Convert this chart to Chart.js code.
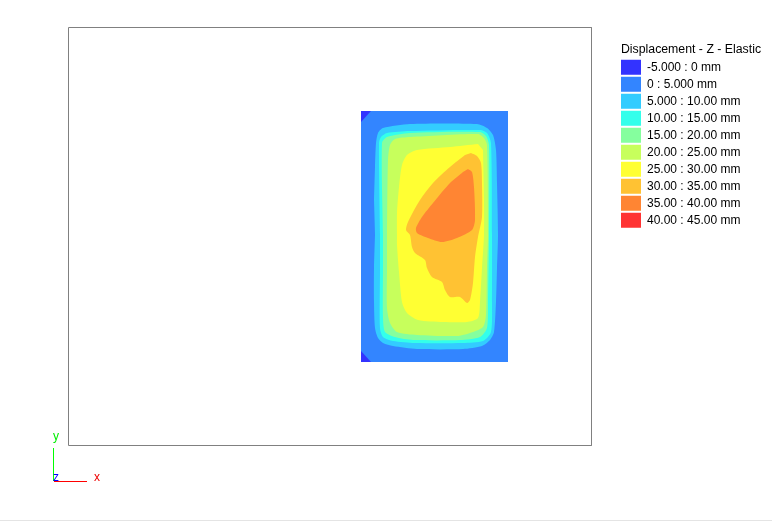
<!DOCTYPE html>
<html><head><meta charset="utf-8">
<style>html,body{margin:0;padding:0;background:#fff}canvas{display:block}</style>
<script src="https://cdn.jsdelivr.net/npm/chart.js@4"></script></head>
<body><canvas id="c" width="772" height="522"></canvas>
<script>
const legendTitle = 'Displacement - Z - Elastic';
const rangeLabels = ['-5.000 : 0 mm','0 : 5.000 mm','5.000 : 10.00 mm','10.00 : 15.00 mm','15.00 : 20.00 mm','20.00 : 25.00 mm','25.00 : 30.00 mm','30.00 : 35.00 mm','35.00 : 40.00 mm','40.00 : 45.00 mm'];
const rangeColors = ['#3333ff','#3385ff','#33ccff','#33ffeb','#85ff9e','#c7ff5c','#ffff33','#ffc233','#ff8533','#ff3333'];
const contourNeg5 = [[361,111],[371,111],[361,122],null,[361,351],[371,362],[361,362]];
const contour0 = [[361,111],[508,111],[508,362],[361,362]];
const contour5 = [[374,200],[375,167],[376,143],[378,133],[383,128],[410,124],[477,124],[487,128],[493,135],[496,150],[497,183],[498,235],[497,268],[496,302],[494,332],[490,340],[482,346],[463,349],[417,349],[393,346],[383,343],[378,338],[375,328],[374,302],[374,268],[375,235]];
const contour10 = [[380,235],[379,143],[381,137],[387,133],[410,131],[480,130],[487,133],[491,143],[492,235],[492,302],[491,332],[483,341],[463,343],[415,343],[393,341],[383,337],[380,328],[380,268]];
const contour15 = [[383,235],[382,143],[387,137],[410,133],[480,132],[486,136],[489,145],[489,235],[488,302],[487,328],[480,337],[460,340],[413,340],[395,337],[385,332],[383,318],[383,268]];
const contour20 = [[387,235],[388,160],[390,145],[395,139],[410,137],[478,134],[484,138],[487,145],[488,235],[487,268],[486,315],[483,327],[470,333],[457,336],[417,335],[397,332],[390,323],[387,308],[387,268]];
const contour25 = [[478,144],[450,147],[417,150],[407,155],[402,165],[399,187],[397,213],[397,235],[397,245],[399,272],[402,302],[407,313],[418,320],[443,322],[467,322],[478,318],[480,302],[482,268],[484,235],[484,200],[483,150]];
const contour30 = [[471,153],[477,156],[481,163],[482,183],[482,217],[478,237],[475,257],[473,283],[470,300],[467,303],[460,297],[450,297],[445,290],[442,282],[432,277],[427,268],[425,260],[415,253],[412,247],[410,235],[406,230],[408,222],[420,200],[433,183],[450,167],[465,155]];
const contour35 = [[468,169],[472,172],[474,187],[475,220],[472,230],[457,238],[442,242],[428,238],[417,233],[416,228],[422,217],[433,203],[450,183],[463,172]];
const contour40 = [];
const framePoints = [[68.5,27.5],[591.5,27.5],[591.5,445.5],[68.5,445.5],[68.5,27.5]];
const triadY = [[53.5,448],[53.5,481]];
const triadX = [[54,481.5],[87,481.5]];
const triadZ = [[54,481.5],[59,481.5]];
const windowEdge = [[0,520.5],[772,520.5]];
const triadLabels = [{t:'y',x:56,y:437,c:'#00ee00'},{t:'z',x:56,y:478,c:'#0000ff'},{t:'x',x:97,y:478,c:'#ee0000'}];

const contours = [contourNeg5,contour0,contour5,contour10,contour15,contour20,contour25,contour30,contour35,contour40];
const drawOrder = [1,0,2,3,4,5,6,7,8,9];
const toXY = a => a.map(p => p ? {x:p[0],y:p[1]} : {x:NaN,y:NaN});
const FONT = '"Liberation Sans", Arial, sans-serif';

const datasets = contours.map((c,i)=>({
  label: rangeLabels[i], data: toXY(c), showLine:true, fill:'shape', tension: i>=2 ? 0.25 : 0,
  backgroundColor: rangeColors[i], borderColor: rangeColors[i], borderWidth:0, pointRadius:0,
  order: 100 - drawOrder.indexOf(i)
}));
const lineSet = (data,color,w)=>({label:'', data:toXY(data), showLine:true, fill:false, tension:0, borderColor:color, backgroundColor:color, borderWidth:w, pointRadius:0, order:0});
datasets.push(lineSet(framePoints,'#808080',1), lineSet(triadY,'#00ff00',1), lineSet(triadX,'#ff0000',1), lineSet(triadZ,'#0000ff',1), lineSet(windowEdge,'#e4e4e4',1));

new Chart(document.getElementById('c'),{
  type:'scatter',
  data:{datasets},
  options:{
    responsive:false, animation:false, events:[],
    layout:{padding:0},
    scales:{
      x:{type:'linear',min:0,max:772,display:false},
      y:{type:'linear',min:0,max:522,reverse:true,display:false}
    },
    plugins:{
      tooltip:{enabled:false},
      legend:{
        position:'chartArea', align:'start',
        title:{display:true,text:legendTitle,color:'#000',position:'center',font:{family:FONT,size:12.3},padding:{top:0,bottom:0}},
        labels:{
          boxWidth:20,boxHeight:15,padding:2,color:'#000',font:{family:FONT,size:12},
          generateLabels:ch=>rangeLabels.map((t,i)=>({text:t,fillStyle:rangeColors[i],strokeStyle:rangeColors[i],lineWidth:0,datasetIndex:i,fontColor:'#000'}))
        }
      }
    }
  },
  plugins:[{
    id:'placeLegend',
    afterLayout(ch){
      const l=ch.legend;
      l.left=619; l.right=763; l.width=144; l.top=43; l.bottom=43+l.height;
    }
  },{
    id:'triadLabels',
    afterDatasetsDraw(ch){
      const {ctx,scales:{x,y}}=ch;
      ctx.save(); ctx.font='12px '+FONT; ctx.textAlign='center'; ctx.textBaseline='middle';
      triadLabels.forEach(l=>{ctx.fillStyle=l.c; ctx.fillText(l.t,x.getPixelForValue(l.x),y.getPixelForValue(l.y));});
      ctx.restore();
    }
  }]
});
</script></body></html>
